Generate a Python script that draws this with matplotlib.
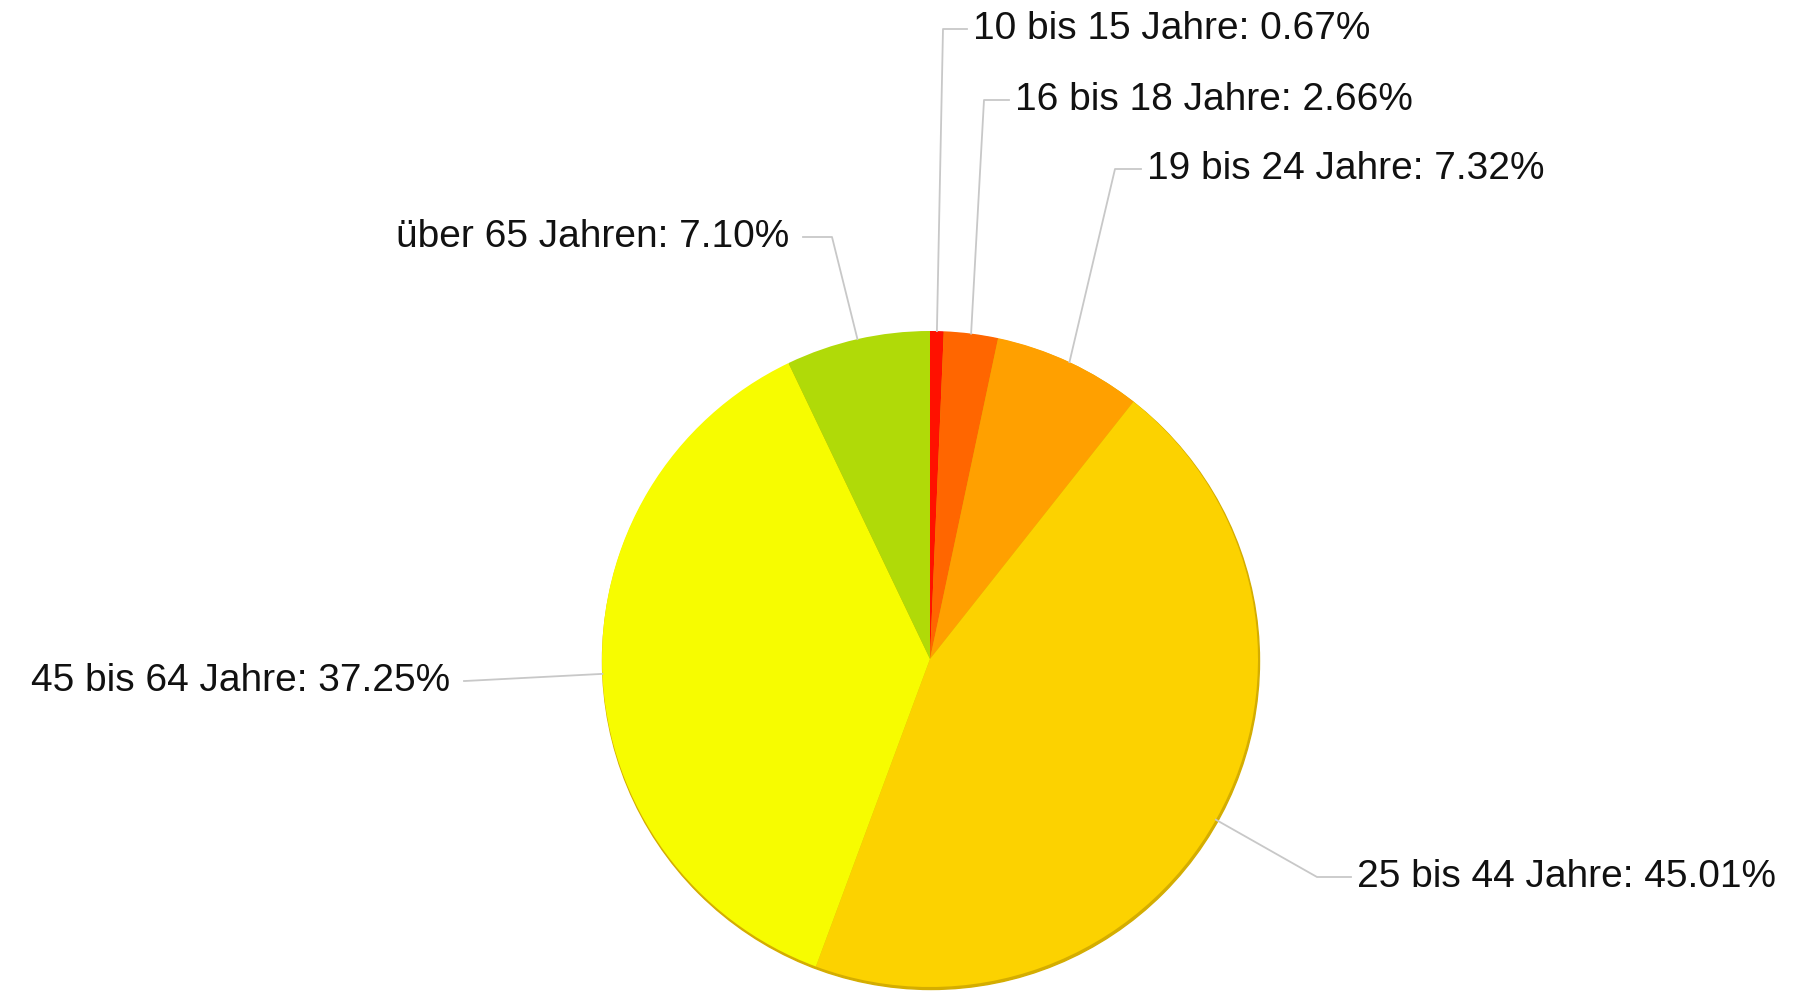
import numpy as np
import matplotlib.pyplot as plt

labels = ["10 bis 15 Jahre", "16 bis 18 Jahre", "19 bis 24 Jahre",
          "25 bis 44 Jahre", "45 bis 64 Jahre", "über 65 Jahren"]
shares = [0.67, 2.66, 7.32, 45.01, 37.25, 7.10]
colors = ["#ff1100", "#ff6600", "#ffa000", "#fcd200", "#f7fc00", "#b0da08"]

W, H = 1799, 993
cx, cy, r = 930, H - 659, 328

# label layout in pixel coords (x, y from top), elbow point, alignment
text_pos = [(973, 29), (1015, 100), (1147, 169), (1357, 877), (450, 681), (789, 237)]
elbows = [(943, 29), (984, 100), (1115, 169), (1317, 877), (465, 681), (832, 237)]
align = ["left", "left", "left", "left", "right", "right"]

fig = plt.figure(figsize=(W / 100, H / 100), dpi=100)
ax = fig.add_axes([0, 0, 1, 1])

# soft shadow under the pie
shadow = plt.Circle((cx + 1, cy - 2), r + 0.5, color="#d4ad00", zorder=0)
ax.add_patch(shadow)

wedges, _ = ax.pie(shares, colors=colors, startangle=90, counterclock=False,
                   center=(cx, cy), radius=r, frame=True,
                   wedgeprops=dict(linewidth=0, antialiased=True))
ax.set_xlim(0, W)
ax.set_ylim(0, H)
ax.set_aspect("equal")
ax.axis("off")

for w, lab, val, tp, el, ha in zip(wedges, labels, shares, text_pos, elbows, align):
    ang = np.deg2rad((w.theta1 + w.theta2) / 2)
    ex, ey = cx + r * np.cos(ang), cy + r * np.sin(ang)
    tx, ty = tp[0], H - tp[1]
    bx, by = el[0], H - el[1]
    endx = tx - 6 if ha == "left" else tx + 14
    ax.plot([ex, bx, endx], [ey, by, by], color="#c8c8c8", lw=1.3, zorder=1)
    ax.text(tx, ty, f"{lab}: {val:.2f}%", ha=ha, va="center",
            fontsize=28, family="Liberation Sans", color="#111111")

fig.savefig("out.png", dpi=100)
